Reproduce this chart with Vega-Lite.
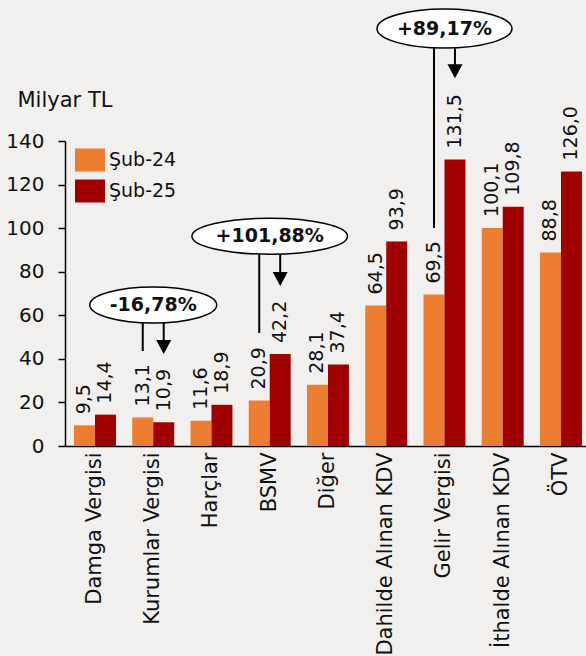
{
  "$schema": "https://vega.github.io/schema/vega-lite/v6.json",
  "width": 521,
  "height": 305,
  "autosize": "none",
  "padding": {"left": 65, "top": 141, "right": 0, "bottom": 210},
  "background": "#f2f0ee",
  "datasets": {
    "vergi": [
      {"kalem": "Damga Vergisi", "donem": "Şub-24", "deger": 9.5},
      {"kalem": "Damga Vergisi", "donem": "Şub-25", "deger": 14.4},
      {"kalem": "Kurumlar Vergisi", "donem": "Şub-24", "deger": 13.1},
      {"kalem": "Kurumlar Vergisi", "donem": "Şub-25", "deger": 10.9},
      {"kalem": "Harçlar", "donem": "Şub-24", "deger": 11.6},
      {"kalem": "Harçlar", "donem": "Şub-25", "deger": 18.9},
      {"kalem": "BSMV", "donem": "Şub-24", "deger": 20.9},
      {"kalem": "BSMV", "donem": "Şub-25", "deger": 42.2},
      {"kalem": "Diğer", "donem": "Şub-24", "deger": 28.1},
      {"kalem": "Diğer", "donem": "Şub-25", "deger": 37.4},
      {"kalem": "Dahilde Alınan KDV", "donem": "Şub-24", "deger": 64.5},
      {"kalem": "Dahilde Alınan KDV", "donem": "Şub-25", "deger": 93.9},
      {"kalem": "Gelir Vergisi", "donem": "Şub-24", "deger": 69.5},
      {"kalem": "Gelir Vergisi", "donem": "Şub-25", "deger": 131.5},
      {"kalem": "İthalde Alınan KDV", "donem": "Şub-24", "deger": 100.1},
      {"kalem": "İthalde Alınan KDV", "donem": "Şub-25", "deger": 109.8},
      {"kalem": "ÖTV", "donem": "Şub-24", "deger": 88.8},
      {"kalem": "ÖTV", "donem": "Şub-25", "deger": 126.0}
    ],
    "notlar": [
      {"kalem": "Kurumlar Vergisi", "etiket": "-16,78%", "merkez": 64.7},
      {"kalem": "BSMV", "etiket": "+101,88%", "merkez": 96.3},
      {"kalem": "Gelir Vergisi", "etiket": "+89,17%", "merkez": 191.6}
    ],
    "cizgiler": [
      {"kalem": "Kurumlar Vergisi", "donem": "Şub-24", "ust": 56.5, "alt": 43.6},
      {"kalem": "Kurumlar Vergisi", "donem": "Şub-25", "ust": 56.5, "alt": 46.5},
      {"kalem": "BSMV", "donem": "Şub-24", "ust": 88.0, "alt": 51.9},
      {"kalem": "BSMV", "donem": "Şub-25", "ust": 88.0, "alt": 78},
      {"kalem": "Gelir Vergisi", "donem": "Şub-24", "ust": 182.7, "alt": 100.1},
      {"kalem": "Gelir Vergisi", "donem": "Şub-25", "ust": 182.7, "alt": 173}
    ],
    "oklar": [
      {"kalem": "Kurumlar Vergisi", "donem": "Şub-25", "uc": 45.4},
      {"kalem": "BSMV", "donem": "Şub-25", "uc": 76.7},
      {"kalem": "Gelir Vergisi", "donem": "Şub-25", "uc": 172.0}
    ]
  },
  "encoding": {
    "x": {
      "field": "kalem",
      "type": "nominal",
      "title": null,
      "sort": ["Damga Vergisi", "Kurumlar Vergisi", "Harçlar", "BSMV", "Diğer", "Dahilde Alınan KDV", "Gelir Vergisi", "İthalde Alınan KDV", "ÖTV"],
      "scale": {"paddingInner": 0.28, "paddingOuter": 0.112, "align": 0.69},
      "axis": {
        "labelAngle": 270,
        "labelAlign": "right",
        "labelBaseline": "middle",
        "labelFontSize": 21,
        "labelColor": "#111",
        "labelPadding": 6,
        "labelLimit": 0,
        "ticks": false,
        "domainColor": "black",
        "domainWidth": 1.5
      }
    }
  },
  "layer": [
    {
      "data": {"name": "vergi"},
      "mark": {"type": "bar"},
      "encoding": {
        "xOffset": {"field": "donem", "type": "nominal", "scale": {"paddingInner": 0, "paddingOuter": 0}},
        "y": {
          "field": "deger",
          "type": "quantitative",
          "scale": {"domain": [0, 140], "nice": false},
          "axis": {
            "values": [0, 20, 40, 60, 80, 100, 120, 140],
            "grid": false,
            "labelFontSize": 20,
            "labelColor": "#111",
            "labelPadding": 14,
            "tickSize": 7,
            "tickColor": "black",
            "tickWidth": 1.5,
            "domainColor": "black",
            "domainWidth": 1.5,
            "title": "Milyar TL",
            "titleAngle": 0,
            "titleAlign": "left",
            "titleBaseline": "alphabetic",
            "titleX": -48,
            "titleY": -35,
            "titleFontSize": 21,
            "titleFontWeight": "normal",
            "titleColor": "#111"
          }
        },
        "color": {
          "field": "donem",
          "type": "nominal",
          "scale": {"domain": ["Şub-24", "Şub-25"], "range": ["#ed7d31", "#a00000"]},
          "legend": {
            "title": null,
            "orient": "none",
            "legendX": 10,
            "legendY": 4,
            "padding": 0,
            "rowPadding": 4,
            "symbolType": "M-1,-0.767H1V0.767H-1Z",
            "symbolSize": 900,
            "symbolStrokeWidth": 0,
            "symbolOpacity": 1,
            "labelFontSize": 19,
            "labelColor": "#111",
            "labelOffset": 4
          }
        }
      }
    },
    {
      "data": {"name": "vergi"},
      "mark": {"type": "text", "angle": 270, "align": "left", "baseline": "middle", "dx": 11, "fontSize": 19, "color": "#111"},
      "encoding": {
        "xOffset": {"field": "donem", "type": "nominal"},
        "y": {"field": "deger", "type": "quantitative"},
        "text": {"field": "deger", "type": "quantitative", "format": ".1f"}
      }
    },
    {
      "data": {"name": "cizgiler"},
      "mark": {"type": "rule", "color": "black", "strokeWidth": 2},
      "encoding": {
        "xOffset": {"field": "donem", "type": "nominal"},
        "y": {"field": "ust", "type": "quantitative"},
        "y2": {"field": "alt"}
      }
    },
    {
      "data": {"name": "oklar"},
      "mark": {"type": "point", "shape": "M-1,-0.93L1,-0.93L0,0.93Z", "size": 225, "filled": true, "color": "black", "opacity": 1},
      "encoding": {
        "xOffset": {"field": "donem", "type": "nominal"},
        "y": {"field": "uc", "type": "quantitative"}
      }
    },
    {
      "data": {"name": "notlar"},
      "mark": {"type": "point", "size": 24025, "filled": true, "fill": "white", "stroke": "black", "strokeWidth": 1.5, "opacity": 1},
      "encoding": {
        "y": {"field": "merkez", "type": "quantitative"},
        "shape": {
          "field": "etiket",
          "type": "nominal",
          "scale": {
            "domain": ["-16,78%", "+101,88%", "+89,17%"],
            "range": [
              "M-0.819,0A0.819,0.232 0 1 0 0.819,0A0.819,0.232 0 1 0 -0.819,0Z",
              "M-1.004,0A1.004,0.232 0 1 0 1.004,0A1.004,0.232 0 1 0 -1.004,0Z",
              "M-0.871,0A0.871,0.252 0 1 0 0.871,0A0.871,0.252 0 1 0 -0.871,0Z"
            ]
          },
          "legend": null
        }
      }
    },
    {
      "data": {"name": "notlar"},
      "mark": {"type": "text", "fontSize": 19, "fontWeight": "bold", "align": "center", "baseline": "middle", "color": "#111"},
      "encoding": {
        "y": {"field": "merkez", "type": "quantitative"},
        "text": {"field": "etiket", "type": "nominal"}
      }
    }
  ],
  "config": {
    "font": "DejaVu Sans",
    "view": {"stroke": null},
    "locale": {"number": {"decimal": ",", "thousands": ".", "grouping": [3], "currency": ["", " TL"]}}
  }
}
